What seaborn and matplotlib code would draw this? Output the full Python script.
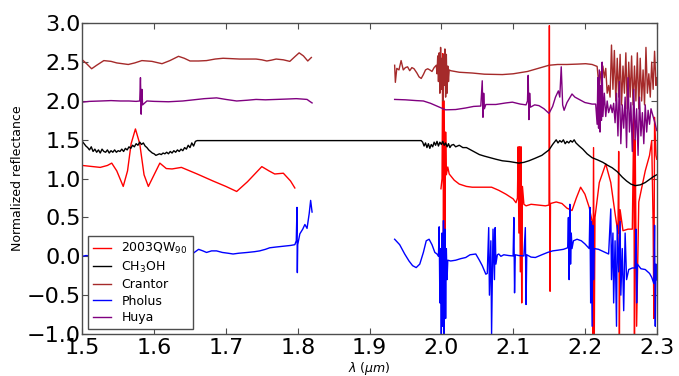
import numpy as np
import pandas as pd
import matplotlib
matplotlib.use("Agg")
import matplotlib.pyplot as plt
import seaborn as sns

SERIES = ['2003QW$_{90}$', 'CH$_3$OH', 'Crantor', 'Pholus', 'Huya']
COLORS = ['red', 'black', '#A52A2A', 'blue', 'purple']
XTICKS = [1.5, 1.6, 1.7, 1.8, 1.9, 2.0, 2.1, 2.2, 2.3]
YTICKS = [-1.0, -0.5, 0.0, 0.5, 1.0, 1.5, 2.0, 2.5, 3.0]

# ---------------- 2003QW90 (red) ----------------
QW90_LEFT = [(1.500, 1.17), (1.510, 1.16), (1.525, 1.145), (1.535, 1.17), (1.541, 1.20),
             (1.548, 1.10), (1.557, 0.90), (1.563, 1.10), (1.568, 1.45), (1.574, 1.64),
             (1.580, 1.45), (1.586, 1.05), (1.592, 0.90), (1.600, 1.05), (1.608, 1.20),
             (1.617, 1.13), (1.625, 1.125), (1.638, 1.145), (1.660, 1.06), (1.682, 0.97),
             (1.700, 0.90), (1.715, 0.835), (1.730, 0.96), (1.750, 1.155), (1.760, 1.10),
             (1.768, 1.06), (1.780, 1.07), (1.790, 0.97), (1.796, 0.88)]
QW90_RIGHT = [(1.9995, 0.87), (2.001, 1.0), (2.002, 2.61), (2.003, 0.30), (2.004, 2.0),
              (2.005, 0.22), (2.006, 1.6), (2.007, 1.05), (2.009, 1.15), (2.011, 1.06),
              (2.018, 0.98), (2.025, 0.93), (2.035, 0.90), (2.043, 0.89), (2.060, 0.89),
              (2.070, 0.89), (2.080, 0.85), (2.090, 0.80), (2.100, 0.74), (2.104, 0.69),
              (2.106, 0.75), (2.107, 1.41), (2.108, 0.30), (2.109, 1.41), (2.110, -0.20),
              (2.111, 1.41), (2.112, -0.60), (2.113, 0.90), (2.115, 0.67), (2.118, 0.65),
              (2.125, 0.67), (2.135, 0.66), (2.145, 0.65), (2.150, 0.66), (2.1505, 2.97),
              (2.151, 0.40), (2.1515, -0.45), (2.152, 0.68), (2.160, 0.70), (2.168, 0.68),
              (2.175, 0.62), (2.182, 0.59), (2.188, 0.75), (2.194, 0.89), (2.200, 0.80),
              (2.206, 0.63), (2.210, 0.45), (2.211, -1.1), (2.212, 1.40), (2.213, -1.1),
              (2.214, 0.50), (2.220, 0.95), (2.229, 1.19), (2.236, 0.95), (2.242, 0.55),
              (2.246, 0.30), (2.247, 1.35), (2.248, -1.1), (2.249, 0.60), (2.253, 0.33),
              (2.260, 0.35), (2.266, 0.35), (2.268, 1.79), (2.269, -1.1), (2.270, 1.50),
              (2.271, 0.30), (2.272, -0.90), (2.275, 0.70), (2.284, 1.10), (2.290, 1.30),
              (2.293, 1.49), (2.295, 0.40), (2.296, -0.80), (2.297, 1.79), (2.299, 1.30),
              (2.300, 1.25)]

# ---------------- CH3OH (black) ----------------
CH3OH_LEFT_X = np.round(np.arange(1.5, 1.66001, 0.0025), 4)
CH3OH_LEFT_Y = [1.48, 1.45, 1.42, 1.40, 1.37, 1.41, 1.35, 1.38, 1.34, 1.37,
                1.33, 1.38, 1.35, 1.34, 1.37, 1.33, 1.36, 1.34, 1.37, 1.34,
                1.36, 1.35, 1.38, 1.35, 1.39, 1.37, 1.41, 1.39, 1.43, 1.41,
                1.45, 1.43, 1.47, 1.44, 1.46, 1.42, 1.40, 1.37, 1.35, 1.33,
                1.32, 1.30, 1.31, 1.32, 1.31, 1.33, 1.32, 1.34, 1.32, 1.35,
                1.33, 1.36, 1.34, 1.37, 1.35, 1.38, 1.36, 1.40, 1.38, 1.43,
                1.40, 1.46, 1.42, 1.48, 1.49]
CH3OH_FLAT = [(1.662, 1.49), (1.972, 1.49)]
CH3OH_MID_X = np.round(np.arange(1.974, 2.01401, 0.002), 4)
CH3OH_MID_Y = [1.47, 1.42, 1.46, 1.40, 1.45, 1.39, 1.44, 1.41, 1.47, 1.43, 1.48,
               1.42, 1.47, 1.44, 1.48, 1.43, 1.46, 1.41, 1.45, 1.40, 1.43]
CH3OH_DESC = [(2.017, 1.44), (2.020, 1.41), (2.025, 1.43), (2.030, 1.40), (2.035, 1.40),
              (2.039, 1.38), (2.045, 1.35), (2.053, 1.31), (2.060, 1.29), (2.068, 1.27),
              (2.076, 1.25), (2.085, 1.23), (2.095, 1.22), (2.108, 1.20), (2.115, 1.21),
              (2.122, 1.23), (2.130, 1.26), (2.140, 1.30), (2.150, 1.37), (2.155, 1.44)]
CH3OH_TOP_X = np.round(np.arange(2.1575, 2.19, 0.0025), 4)
CH3OH_TOP_Y = [1.47, 1.50, 1.46, 1.49, 1.47, 1.50, 1.45, 1.48, 1.46, 1.49, 1.47, 1.50, 1.46]
CH3OH_END = [(2.192, 1.42), (2.197, 1.38), (2.203, 1.32), (2.210, 1.27), (2.218, 1.24),
             (2.225, 1.21), (2.232, 1.17), (2.238, 1.14), (2.245, 1.09), (2.252, 1.02),
             (2.258, 0.97), (2.264, 0.93), (2.270, 0.91), (2.277, 0.92), (2.284, 0.95),
             (2.290, 0.99), (2.296, 1.03), (2.300, 1.05)]

# ---------------- Crantor (brown) ----------------
CRANTOR_LEFT = [(1.500, 2.53), (1.506, 2.48), (1.513, 2.415), (1.520, 2.46), (1.530, 2.52),
                (1.540, 2.51), (1.548, 2.49), (1.556, 2.48), (1.564, 2.47), (1.573, 2.49),
                (1.583, 2.52), (1.597, 2.51), (1.611, 2.48), (1.622, 2.52), (1.634, 2.575),
                (1.642, 2.55), (1.650, 2.515), (1.662, 2.515), (1.673, 2.52), (1.685, 2.54),
                (1.696, 2.55), (1.708, 2.545), (1.719, 2.54), (1.730, 2.54), (1.742, 2.54),
                (1.750, 2.53), (1.757, 2.515), (1.763, 2.525), (1.770, 2.54), (1.780, 2.53),
                (1.789, 2.51), (1.796, 2.57), (1.802, 2.62), (1.808, 2.58), (1.814, 2.515),
                (1.819, 2.56)]
CRANTOR_RIGHT = [(1.935, 2.46), (1.936, 2.24), (1.938, 2.42), (1.941, 2.40), (1.944, 2.52),
                 (1.947, 2.40), (1.950, 2.43), (1.953, 2.44), (1.956, 2.39), (1.959, 2.43),
                 (1.962, 2.415), (1.966, 2.36), (1.969, 2.31), (1.972, 2.29), (1.975, 2.34),
                 (1.978, 2.40), (1.981, 2.415), (1.984, 2.40), (1.987, 2.38), (1.990, 2.43),
                 (1.993, 2.46), (1.994, 2.35), (1.995, 2.58), (1.996, 2.25), (1.997, 2.62),
                 (1.998, 2.10), (1.999, 2.69), (2.000, 2.15), (2.001, 2.55), (2.002, 2.00),
                 (2.003, 2.60), (2.004, 2.20), (2.005, 2.67), (2.006, 2.05), (2.007, 2.60),
                 (2.008, 2.10), (2.009, 2.45), (2.010, 2.25), (2.011, 2.40), (2.013, 2.39),
                 (2.025, 2.37), (2.043, 2.36), (2.060, 2.345), (2.085, 2.34), (2.100, 2.35),
                 (2.120, 2.38), (2.135, 2.42), (2.150, 2.46), (2.162, 2.47), (2.175, 2.47),
                 (2.190, 2.475), (2.201, 2.48), (2.210, 2.47), (2.217, 2.445), (2.219, 2.25),
                 (2.221, 2.38), (2.223, 2.22), (2.225, 2.45), (2.227, 2.30), (2.229, 2.42),
                 (2.231, 2.10), (2.233, 2.20), (2.235, 2.05), (2.237, 2.72), (2.239, 2.15),
                 (2.241, 2.65), (2.243, 2.00), (2.245, 2.55), (2.247, 2.05), (2.249, 2.60),
                 (2.251, 1.95), (2.253, 2.45), (2.255, 2.10), (2.257, 2.62), (2.259, 1.90),
                 (2.261, 2.50), (2.263, 2.05), (2.265, 2.58), (2.267, 1.95), (2.269, 2.45),
                 (2.271, 2.00), (2.273, 2.62), (2.275, 1.90), (2.277, 2.55), (2.279, 2.00),
                 (2.281, 2.40), (2.283, 1.95), (2.285, 2.69), (2.287, 2.10), (2.289, 2.35),
                 (2.291, 2.05), (2.293, 2.50), (2.295, 2.15), (2.297, 2.64), (2.299, 2.20),
                 (2.300, 2.30)]

# ---------------- Pholus (blue) ----------------
PHOLUS_LEFT = [(1.500, 0.00), (1.505, 0.01), (1.520, 0.00), (1.550, 0.00), (1.600, 0.00),
               (1.640, 0.00), (1.650, 0.01), (1.656, 0.05), (1.662, 0.09), (1.668, 0.07),
               (1.673, 0.05), (1.680, 0.07), (1.687, 0.07), (1.695, 0.05), (1.703, 0.04),
               (1.710, 0.03), (1.718, 0.04), (1.730, 0.05), (1.740, 0.06), (1.747, 0.07),
               (1.755, 0.09), (1.761, 0.11), (1.770, 0.12), (1.780, 0.13), (1.790, 0.14),
               (1.796, 0.15), (1.798, 0.20), (1.799, 0.63), (1.7995, -0.21), (1.800, 0.15),
               (1.803, 0.29), (1.807, 0.35), (1.810, 0.41), (1.813, 0.36), (1.816, 0.55),
               (1.818, 0.72), (1.820, 0.57)]
PHOLUS_RIGHT = [(1.935, 0.22), (1.942, 0.15), (1.949, 0.03), (1.955, -0.06), (1.960, -0.12),
                (1.965, -0.145), (1.970, -0.10), (1.975, 0.05), (1.979, 0.20), (1.983, 0.22),
                (1.987, 0.15), (1.991, 0.05), (1.994, 0.03), (1.996, 0.00), (1.997, 0.38),
                (1.998, -0.60), (1.999, 0.10), (2.000, -1.0), (2.001, 0.30), (2.002, -0.90),
                (2.003, 0.46), (2.004, -1.05), (2.005, 0.35), (2.006, -0.80), (2.007, 0.10),
                (2.008, -0.30), (2.009, -0.05), (2.013, -0.06), (2.020, -0.05), (2.027, -0.03),
                (2.034, -0.015), (2.040, 0.02), (2.048, 0.03), (2.053, -0.05), (2.057, -0.12),
                (2.062, -0.23), (2.064, -0.22), (2.066, 0.37), (2.067, -0.50), (2.069, 0.20),
                (2.070, -1.0), (2.072, 0.35), (2.074, -0.30), (2.075, 0.37), (2.076, -0.10),
                (2.078, 0.02), (2.080, 0.03), (2.083, 0.00), (2.087, 0.02), (2.094, 0.01),
                (2.100, 0.005), (2.101, 0.50), (2.102, -0.47), (2.103, 0.02), (2.108, 0.01),
                (2.115, 0.005), (2.117, 0.37), (2.118, -0.62), (2.119, 0.02), (2.125, -0.01),
                (2.131, -0.015), (2.140, 0.02), (2.148, 0.05), (2.155, 0.07), (2.163, 0.08),
                (2.170, 0.09), (2.176, 0.11), (2.177, 0.50), (2.178, -0.30), (2.179, 0.67),
                (2.180, -0.10), (2.181, 0.30), (2.182, 0.10), (2.184, 0.20), (2.189, 0.22),
                (2.195, 0.20), (2.200, 0.16), (2.204, 0.12), (2.206, 0.10), (2.207, 0.63),
                (2.208, -0.60), (2.209, 0.45), (2.210, -0.90), (2.211, 0.40), (2.212, -0.30),
                (2.213, 0.10), (2.219, 0.09), (2.226, 0.06), (2.233, 0.03), (2.236, 0.61),
                (2.237, -0.30), (2.239, 0.30), (2.240, -0.60), (2.242, 0.20), (2.244, -0.90),
                (2.245, 0.40), (2.247, -0.20), (2.249, 0.45), (2.250, -0.50), (2.252, 0.10),
                (2.254, -0.70), (2.256, 0.30), (2.258, -0.30), (2.261, -0.17), (2.266, -0.15),
                (2.270, -0.15), (2.271, 0.35), (2.272, -0.60), (2.273, -0.10), (2.278, -0.16),
                (2.284, -0.17), (2.290, -0.22), (2.293, -0.27), (2.296, -0.35), (2.297, 0.40),
                (2.298, -0.90), (2.299, -0.10), (2.300, -0.30)]

# ---------------- Huya (purple) ----------------
HUYA_LEFT = [(1.500, 1.985), (1.510, 1.995), (1.526, 2.00), (1.540, 2.005), (1.553, 2.00),
             (1.565, 2.00), (1.575, 1.995), (1.580, 2.00), (1.581, 2.30), (1.582, 1.83),
             (1.583, 2.15), (1.584, 1.95), (1.590, 2.00), (1.600, 1.995), (1.620, 1.99),
             (1.640, 2.00), (1.655, 2.015), (1.670, 2.03), (1.687, 2.04), (1.700, 2.02),
             (1.715, 2.00), (1.730, 2.01), (1.742, 2.02), (1.755, 2.015), (1.770, 2.02),
             (1.785, 2.025), (1.798, 2.03), (1.806, 2.025), (1.813, 2.02), (1.816, 2.00),
             (1.820, 1.975)]
HUYA_RIGHT = [(1.935, 2.02), (1.950, 2.015), (1.965, 2.005), (1.975, 2.00), (1.985, 1.97),
              (1.995, 1.93), (2.006, 1.886), (2.020, 1.89), (2.034, 1.91), (2.045, 1.93),
              (2.055, 1.935), (2.057, 2.26), (2.058, 1.79), (2.059, 2.10), (2.060, 1.90),
              (2.062, 1.955), (2.076, 1.955), (2.090, 1.975), (2.099, 1.985), (2.110, 1.96),
              (2.118, 1.95), (2.120, 2.00), (2.121, 2.33), (2.122, 1.76), (2.123, 2.10),
              (2.124, 1.92), (2.130, 1.95), (2.136, 1.94), (2.143, 1.90), (2.150, 1.84),
              (2.155, 1.93), (2.159, 2.05), (2.163, 2.13), (2.165, 2.05), (2.167, 2.44),
              (2.169, 1.95), (2.171, 1.88), (2.175, 1.98), (2.182, 2.09), (2.186, 2.05),
              (2.190, 2.03), (2.200, 1.98), (2.210, 1.96), (2.215, 1.96), (2.217, 1.70),
              (2.218, 2.30), (2.219, 1.65), (2.220, 2.40), (2.221, 1.60), (2.222, 2.20),
              (2.223, 1.75), (2.224, 2.50), (2.225, 1.80), (2.227, 2.10), (2.229, 1.80),
              (2.231, 2.00), (2.233, 1.85), (2.236, 1.95), (2.238, 1.85), (2.240, 1.97),
              (2.242, 1.72), (2.244, 2.10), (2.246, 1.55), (2.248, 2.25), (2.250, 1.45),
              (2.252, 1.95), (2.254, 1.65), (2.256, 2.05), (2.258, 1.40), (2.260, 2.30),
              (2.262, 1.60), (2.264, 1.98), (2.266, 1.35), (2.268, 2.15), (2.270, 1.50),
              (2.272, 1.90), (2.274, 1.30), (2.276, 2.05), (2.278, 1.55), (2.280, 1.85),
              (2.282, 1.45), (2.284, 1.95), (2.286, 1.60), (2.288, 1.88), (2.290, 1.70),
              (2.292, 1.90), (2.295, 1.80), (2.298, 1.70), (2.300, 1.62)]

# ---------------- assemble ----------------
ch3oh = (list(zip(CH3OH_LEFT_X, CH3OH_LEFT_Y)) + CH3OH_FLAT
         + list(zip(CH3OH_MID_X, CH3OH_MID_Y)) + CH3OH_DESC
         + list(zip(CH3OH_TOP_X, CH3OH_TOP_Y)) + CH3OH_END)

segments = {
    SERIES[0]: [QW90_LEFT, QW90_RIGHT],
    SERIES[1]: [ch3oh],
    SERIES[2]: [CRANTOR_LEFT, CRANTOR_RIGHT],
    SERIES[3]: [PHOLUS_LEFT, PHOLUS_RIGHT],
    SERIES[4]: [HUYA_LEFT, HUYA_RIGHT],
}
rows = []
for name in SERIES:
    for i, seg in enumerate(segments[name]):
        for order, (x, y) in enumerate(seg):
            rows.append({"series": name, "seg": f"{name}-{i}", "order": order,
                         "x": float(x), "y": float(y)})
df = pd.DataFrame(rows)

fig = plt.figure(figsize=(6.79, 3.76), dpi=100)
ax = fig.add_axes([0.1212, 0.1117, 0.846, 0.8263])

sns.lineplot(data=df, x="x", y="y", hue="series", hue_order=SERIES,
             palette=COLORS, units="seg", estimator=None, sort=False,
             linewidth=1.0, ax=ax)

ax.set_xlim(1.5, 2.3)
ax.set_ylim(-1.0, 3.0)
ax.set_xticks(XTICKS)
ax.set_yticks(YTICKS)
ax.set_xticklabels([f"{v:.1f}" for v in XTICKS])
ax.set_yticklabels([f"{v:.1f}".replace("-", "\u2212") for v in YTICKS])
ax.tick_params(direction="in", length=4, width=0.8, color="0.3",
               top=True, right=True, labelsize=16)
ax.tick_params(axis="x", pad=3)
ax.tick_params(axis="y", pad=1)
for s in ax.spines.values():
    s.set_color("0.3")
    s.set_linewidth(1.0)

ax.set_xlabel(r"$\lambda$ $(\mu m)$", fontsize=9)
ax.set_ylabel("Normalized reflectance", fontsize=9)
ax.yaxis.set_label_coords(-0.102, 0.5)
ax.xaxis.set_label_coords(0.5, -0.085)

handles, labels = ax.get_legend_handles_labels()
ax.legend(handles, labels, loc="lower left", bbox_to_anchor=(0.0104, 0.015),
          borderaxespad=0, fontsize=9, frameon=True, fancybox=False,
          edgecolor="0.3", framealpha=1, handlelength=1.45, handletextpad=0.8,
          labelspacing=0.28)

fig.savefig("out.png", dpi=100)
